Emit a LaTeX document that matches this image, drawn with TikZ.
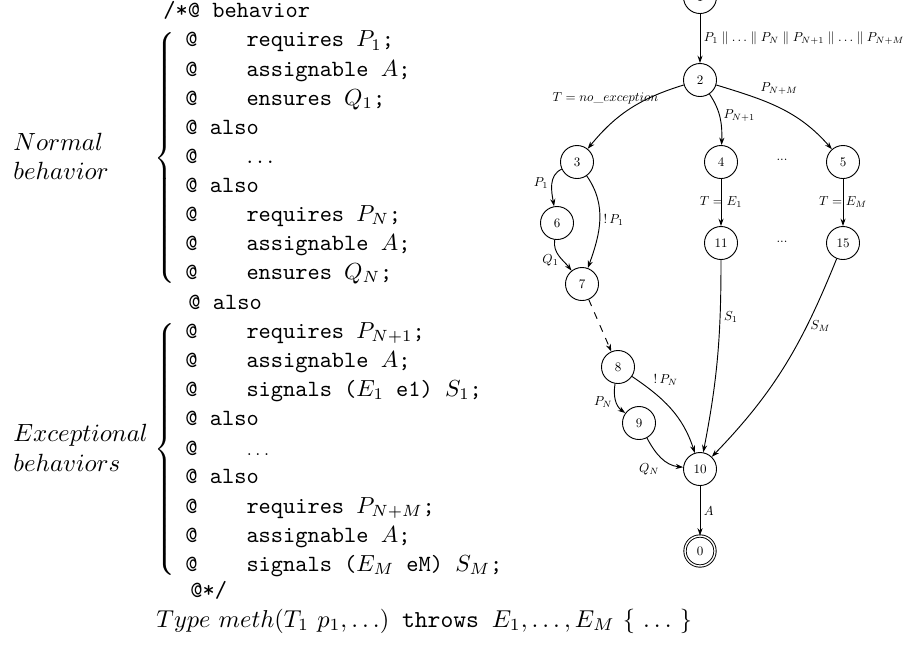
\RequirePackage{fix-cm}
\documentclass[tikz,border=0pt]{standalone}
\usepackage{graphicx}
\usetikzlibrary{arrows.meta}
\newcommand{\sm}[1]{\scalebox{0.56}{#1}}
\tikzset{
  vertex/.style={circle,draw,line width=0.4pt,minimum size=14.2pt,inner sep=0pt},
  final/.style={vertex,minimum size=12.9pt,double,double distance=0.6pt},
  trans/.style={-{Stealth[length=3.2pt,width=2.2pt]},line width=0.4pt},
  lbl/.style={inner sep=1.5pt},
  codeline/.style={anchor=base west,inner sep=0pt,font=\ttfamily},
  sidelabel/.style={anchor=base west,inner sep=0pt,font=\fontsize{10.7}{13}\selectfont},
}
\begin{document}
\begin{tikzpicture}[x=0.43pt,y=-0.43pt]
\useasboundingbox (0,0) rectangle (909,647);
% JML specification
\node[codeline] (c0) at (163,17.5) {/*@ behavior};
\node[anchor=east,inner sep=0pt] (nbrace) at (178,158) {$\left\{\vcenter{\hrule height 112pt width 0pt}\right.$};
\node[codeline] (n1) at (185,46.7) {@\ \ \ \ requires $P_1$;};
\node[codeline] (n2) at (185,76) {@\ \ \ \ assignable $A$;};
\node[codeline] (n3) at (185,105) {@\ \ \ \ ensures $Q_1$;};
\node[codeline] (n4) at (185,134) {@ also};
\node[codeline] (n5) at (185,163) {@\ \ \ \ $\ldots$};
\node[codeline] (n6) at (185,192) {@ also};
\node[codeline] (n7) at (185,221) {@\ \ \ \ requires $P_N$;};
\node[codeline] (n8) at (185,250) {@\ \ \ \ assignable $A$;};
\node[codeline] (n9) at (185,279) {@\ \ \ \ ensures $Q_N$;};
\node[codeline] (c1) at (188,309) {@ also};
\node[anchor=east,inner sep=0pt] (ebrace) at (178,449.5) {$\left\{\vcenter{\hrule height 112pt width 0pt}\right.$};
\node[codeline] (e1) at (185,338.3) {@\ \ \ \ requires $P_{N+1}$;};
\node[codeline] (e2) at (185,367) {@\ \ \ \ assignable $A$;};
\node[codeline] (e3) at (185,396) {@\ \ \ \ signals ($E_1$ e1) $S_1$;};
\node[codeline] (e4) at (185,425) {@ also};
\node[codeline] (e5) at (185,455) {@\ \ \ \ {\scriptsize$\ldots$}};
\node[codeline] (e6) at (185,483) {@ also};
\node[codeline] (e7) at (185,513) {@\ \ \ \ requires $P_{N+M}$;};
\node[codeline] (e8) at (185,542) {@\ \ \ \ assignable $A$;};
\node[codeline] (e9) at (185,571) {@\ \ \ \ signals ($E_M$ eM) $S_M$;};
\node[codeline] (c2) at (190,597) {@*/};
\node[anchor=base west,inner sep=0pt,font=\fontsize{10.5}{13}\selectfont] (sig) at (156,627)
  {$Type\ meth(T_1\ p_1,\ldots)$\texttt{\ throws\ }$E_1,\ldots,E_M$\ $\{\ \ldots\ \}$};
\node[sidelabel] (normal1) at (13,150) {$Normal$};
\node[sidelabel] (normal2) at (13,179) {$behavior$};
\node[sidelabel] (except1) at (13,441.7) {$Exceptional$};
\node[sidelabel] (except2) at (13,471) {$behaviors$};
% automaton
\node[vertex] (s1) at (700,-3) {\sm{1}};
\node[vertex] (s2) at (700,80) {\sm{2}};
\node[vertex] (s3) at (577,162) {\sm{3}};
\node[vertex] (s4) at (721,162) {\sm{4}};
\node[vertex] (s5) at (843,162) {\sm{5}};
\node[vertex] (s6) at (557,223) {\sm{6}};
\node[vertex] (s11) at (721,243) {\sm{11}};
\node[vertex] (s15) at (843,243) {\sm{15}};
\node[vertex] (s7) at (582,284) {\sm{7}};
\node[vertex] (s8) at (618,367) {\sm{8}};
\node[vertex] (s9) at (639,423) {\sm{9}};
\node[vertex] (s10) at (700,469) {\sm{10}};
\node[final] (s0) at (700,551) {\sm{0}};
\node[lbl] (dots1) at (782,160) {\sm{...}};
\node[lbl] (dots2) at (782,242) {\sm{...}};
\draw[trans] (s1) -- node[lbl,right] {\sm{$P_1\parallel\ldots\parallel P_N\parallel P_{N+1}\parallel\ldots\parallel P_{N+M}$}} (s2);
\draw[trans] (s2) to[out=197,in=51] node[lbl,pos=0.2,anchor=east,xshift=1pt,yshift=-2pt] {\sm{$T=no\_exception$}} (s3);
\draw[trans] (s2) to[out=-56,in=88] node[lbl,pos=0.45,right] {\sm{$P_{N+1}$}} (s4);
\draw[trans] (s2) to[out=-17,in=131] node[lbl,pos=0.3,above right] {\sm{$P_{N+M}$}} (s5);
\draw[trans] (s3) to[out=205,in=100] node[lbl,pos=0.45,left] {\sm{$P_1$}} (s6);
\draw[trans] (s3) to[out=-55,in=70] node[lbl,pos=0.5,right] {\sm{$!\,P_1$}} (s7);
\draw[trans] (s6) to[out=-98,in=128] node[lbl,pos=0.65,left] {\sm{$Q_1$}} (s7);
\draw[trans] (s4) -- node[lbl,inner sep=0pt] {\sm{$T=E_1$}} (s11);
\draw[trans] (s5) -- node[lbl,inner sep=0pt] {\sm{$T=E_M$}} (s15);
\draw[trans,dashed] (s7) -- (s8);
\draw[trans] (s8) to[out=-100,in=144] node[lbl,pos=0.55,left] {\sm{$P_N$}} (s9);
\draw[trans] (s8) to[out=-34,in=108] node[lbl,pos=0.2,above right] {\sm{$!\,P_N$}} (s10);
\draw[trans] (s9) to[out=-62,in=174] node[lbl,pos=0.55,below left] {\sm{$Q_N$}} (s10);
\draw[trans] (s11) to[out=-90,in=79] node[lbl,pos=0.28,right] {\sm{$S_1$}} (s10);
\draw[trans] (s15) to[out=-112,in=46] node[lbl,pos=0.3,right] {\sm{$S_M$}} (s10);
\draw[trans] (s10) -- node[lbl,right] {\sm{$A$}} (s0);
\end{tikzpicture}
\end{document}
